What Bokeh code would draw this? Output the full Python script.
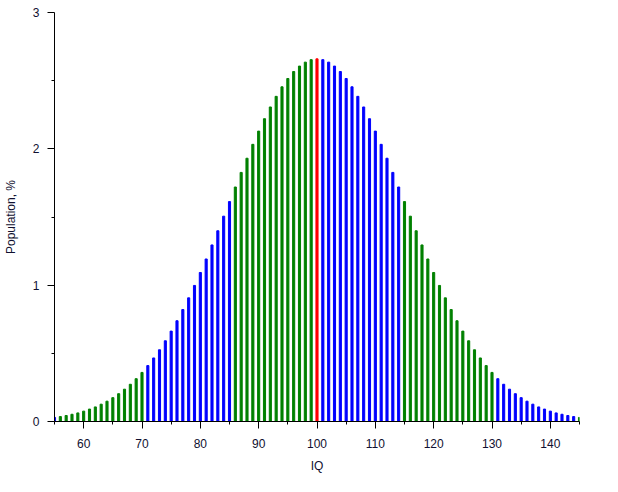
from bokeh.plotting import figure
from bokeh.models import FixedTicker, Range1d, ColumnDataSource
from bokeh.embed import file_html
from bokeh.resources import INLINE

iq = list(range(55, 146))
# population share (%), IQ 55..145
population = [
    0.030, 0.036, 0.044, 0.053, 0.063, 0.076, 0.091, 0.107, 0.127, 0.149,
    0.175, 0.204, 0.237, 0.273, 0.314, 0.360, 0.410, 0.466, 0.526, 0.592,
    0.663, 0.739, 0.821, 0.907, 0.998, 1.093, 1.192, 1.295, 1.399, 1.506,
    1.613, 1.720, 1.827, 1.931, 2.033, 2.130, 2.221, 2.307, 2.385, 2.455,
    2.516, 2.567, 2.607, 2.636, 2.654, 2.660, 2.654, 2.636, 2.607, 2.567,
    2.516, 2.455, 2.385, 2.307, 2.221, 2.130, 2.033, 1.931, 1.827, 1.720,
    1.613, 1.506, 1.399, 1.295, 1.192, 1.093, 0.998, 0.907, 0.821, 0.739,
    0.663, 0.592, 0.526, 0.466, 0.410, 0.360, 0.314, 0.273, 0.237, 0.204,
    0.175, 0.149, 0.127, 0.107, 0.091, 0.076, 0.063, 0.053, 0.044, 0.036,
    0.030,
]
# colour groups: (first IQ, last IQ, colour)
groups = [
    (55, 55, "#0000ff"),
    (56, 70, "#008000"),
    (71, 85, "#0000ff"),
    (86, 99, "#008000"),
    (100, 100, "#ff0000"),
    (101, 114, "#0000ff"),
    (115, 130, "#008000"),
    (131, 144, "#0000ff"),
    (145, 145, "#008000"),
]
x_ticks = [60, 70, 80, 90, 100, 110, 120, 130, 140]
x_minor = [55, 65, 75, 85, 95, 105, 115, 125, 135, 145]
y_ticks = [0, 1, 2, 3]
y_minor = [0.5, 1.5, 2.5]


def colour_of(v):
    for a, b, c in groups:
        if a <= v <= b:
            return c
    return "#000000"


colors = [colour_of(v) for v in iq]
src = ColumnDataSource(dict(x=iq, top=population, color=colors))

p = figure(width=600, height=476, output_backend="svg", toolbar_location=None,
           x_range=Range1d(55, 145), y_range=Range1d(0, 3),
           min_border_left=53, min_border_right=21, min_border_top=12,
           min_border_bottom=55)
p.outline_line_color = None
p.xgrid.visible = False
p.ygrid.visible = False

p.vbar(x="x", top="top", width=0.36, bottom=0, color="color", source=src)

p.xaxis.ticker = FixedTicker(ticks=x_ticks, minor_ticks=x_minor)
p.yaxis.ticker = FixedTicker(ticks=y_ticks, minor_ticks=y_minor)

for ax in (p.xaxis[0], p.yaxis[0]):
    ax.axis_line_color = "black"
    ax.major_tick_line_color = "black"
    ax.minor_tick_line_color = "black"
    ax.major_tick_in = 0
    ax.major_tick_out = 7
    ax.minor_tick_in = 0
    ax.minor_tick_out = 3
    ax.major_label_text_font = "Liberation Sans"
    ax.major_label_text_font_size = "12px"
    ax.major_label_text_color = "#101030"
    ax.axis_label_text_font = "Liberation Sans"
    ax.axis_label_text_font_size = "12px"
    ax.axis_label_text_font_style = "normal"
    ax.axis_label_text_color = "#101030"

p.xaxis.axis_label = "IQ"
p.yaxis.axis_label = "Population, %"
p.xaxis.major_label_standoff = 10
p.yaxis.major_label_standoff = 8
p.xaxis.axis_label_standoff = 8
p.yaxis.axis_label_standoff = 12

open("out.html", "w").write(file_html(p, INLINE))
